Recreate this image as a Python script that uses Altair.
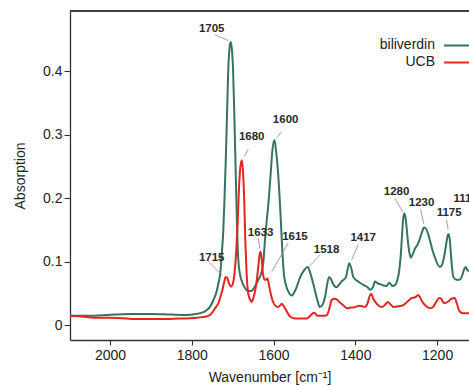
import altair as alt
import pandas as pd

# ---- spectra ----
bv_wn = [2098, 2060, 2020, 1990, 1950, 1900, 1850, 1812, 1790, 1775, 1764, 1755, 1747, 1740,
         1735, 1730, 1727, 1723, 1720, 1717, 1714, 1711, 1708, 1705, 1702, 1699, 1696, 1693,
         1690, 1686, 1682, 1678, 1670, 1662, 1655, 1645, 1637, 1629, 1625, 1621, 1616, 1613,
         1607, 1603, 1598, 1594, 1589, 1584, 1580, 1575, 1570, 1563, 1556, 1545, 1535, 1525,
         1517, 1510, 1503, 1493, 1487, 1480, 1474, 1468, 1464, 1459, 1455, 1446, 1440, 1434,
         1423, 1419, 1415, 1410, 1405, 1393, 1381, 1370, 1364, 1357, 1352, 1345, 1340, 1324,
         1317, 1309, 1302, 1298, 1293, 1289, 1286, 1283, 1280, 1277, 1274, 1271, 1267, 1264,
         1259, 1254, 1248, 1244, 1238, 1232, 1228, 1223, 1218, 1212, 1206, 1200, 1193, 1188,
         1183, 1178, 1174, 1172, 1169, 1166, 1163, 1160, 1153, 1145, 1139, 1134, 1130, 1126, 1122]
bv_abs = [0.015, 0.015, 0.016, 0.017, 0.018, 0.018, 0.017, 0.0165, 0.018, 0.02, 0.024, 0.03, 0.04, 0.052,
          0.066, 0.085, 0.11, 0.15, 0.20, 0.26, 0.33, 0.40, 0.435, 0.446, 0.435, 0.40, 0.33, 0.25,
          0.17, 0.10, 0.08, 0.07, 0.059, 0.054, 0.054, 0.062, 0.072, 0.085, 0.10, 0.135, 0.17, 0.19,
          0.24, 0.275, 0.292, 0.275, 0.24, 0.187, 0.135, 0.082, 0.064, 0.052, 0.047, 0.058, 0.076, 0.087,
          0.092, 0.082, 0.066, 0.04, 0.029, 0.033, 0.045, 0.068, 0.076, 0.072, 0.066, 0.06, 0.064, 0.069,
          0.076, 0.088, 0.098, 0.09, 0.076, 0.069, 0.064, 0.06, 0.056, 0.06, 0.069, 0.066, 0.065, 0.062,
          0.067, 0.062, 0.064, 0.07, 0.085, 0.11, 0.14, 0.168, 0.176, 0.168, 0.15, 0.13, 0.112, 0.107,
          0.113, 0.121, 0.127, 0.133, 0.145, 0.154, 0.153, 0.146, 0.135, 0.12, 0.108, 0.098, 0.092, 0.095,
          0.108, 0.127, 0.142, 0.144, 0.135, 0.11, 0.088, 0.076, 0.072, 0.072, 0.078, 0.088, 0.092, 0.087, 0.085]

ucb_wn = [2098, 2070, 2040, 2000, 1960, 1944, 1900, 1861, 1830, 1812, 1790, 1775, 1760, 1753,
          1748, 1742, 1735, 1730, 1725, 1721, 1717, 1713, 1709, 1704, 1700, 1696, 1692, 1688,
          1685, 1682, 1678, 1675, 1672, 1669, 1666, 1662, 1657, 1654, 1650, 1645, 1641, 1637,
          1634, 1632, 1629, 1626, 1622, 1618, 1615, 1612, 1609, 1603, 1597, 1589, 1583, 1580,
          1576, 1572, 1566, 1560, 1548, 1530, 1519, 1512, 1506, 1501, 1497, 1493, 1480, 1470,
          1463, 1458, 1450, 1446, 1438, 1430, 1420, 1412, 1405, 1397, 1389, 1383, 1377, 1370,
          1365, 1361, 1356, 1349, 1343, 1336, 1328, 1321, 1314, 1307, 1295, 1283, 1275, 1268,
          1263, 1255, 1250, 1246, 1241, 1234, 1226, 1218, 1210, 1203, 1195, 1190, 1186, 1181,
          1172, 1165, 1157, 1152, 1145, 1135, 1122]
ucb_abs = [0.015, 0.014, 0.012, 0.012, 0.011, 0.01, 0.01, 0.01, 0.011, 0.011, 0.012, 0.013, 0.015, 0.018,
           0.022, 0.028, 0.035, 0.045, 0.056, 0.068, 0.076, 0.074, 0.066, 0.061, 0.065, 0.08, 0.11, 0.16,
           0.21, 0.245, 0.26, 0.245, 0.2, 0.13, 0.082, 0.05, 0.04, 0.037, 0.042, 0.055, 0.072, 0.095,
           0.112, 0.116, 0.105, 0.082, 0.072, 0.072, 0.074, 0.066, 0.056, 0.04, 0.032, 0.029, 0.032, 0.034,
           0.031, 0.027, 0.02, 0.014, 0.011, 0.011, 0.011, 0.014, 0.018, 0.02, 0.018, 0.015, 0.015, 0.016,
           0.028, 0.04, 0.042, 0.041, 0.036, 0.032, 0.027, 0.028, 0.028, 0.03, 0.031, 0.03, 0.029, 0.035,
           0.046, 0.05, 0.042, 0.035, 0.031, 0.029, 0.032, 0.037, 0.033, 0.029, 0.03, 0.032, 0.036, 0.04,
           0.043, 0.044, 0.046, 0.048, 0.043, 0.035, 0.03, 0.027, 0.029, 0.036, 0.043, 0.042, 0.037, 0.035,
           0.038, 0.042, 0.043, 0.035, 0.022, 0.019, 0.019]

series_names = ["biliverdin", "UCB"]
series_colors = ["#37735f", "#e3261f"]

# ---- peak annotations ----
peak_labels = ["1705", "1680", "1600", "1633", "1615", "1518", "1417", "1715", "1280", "1230", "1175", "1111"]
label_wn = [1751.4, 1653.6, 1570.5, 1631.6, 1547.8, 1470.3, 1380.8, 1751.4, 1299.2, 1238.1, 1170.6, 1131.0]
label_abs = [0.4665, 0.2964, 0.3236, 0.1461, 0.1398, 0.1189, 0.1383, 0.1068, 0.2107, 0.1934, 0.1776, 0.1987]

lead_wn1 = [1743.3, 1661.9, 1580.3, 1637.5, 1564.2, 1486.7, 1393.0, 1759.7, 1303.3, 1240.5, 1177.0]
lead_abs1 = [0.4575, 0.2775, 0.3052, 0.1373, 0.1294, 0.1110, 0.1268, 0.1005, 0.2003, 0.1830, 0.1661]
lead_wn2 = [1710.8, 1671.7, 1592.5, 1633.3, 1604.7, 1512.8, 1409.2, 1724.5, 1284.5, 1232.5, 1173.0]
lead_abs2 = [0.4485, 0.2658, 0.2948, 0.1210, 0.0847, 0.0926, 0.1031, 0.0780, 0.1792, 0.1598, 0.1504]

spec = pd.concat([
    pd.DataFrame({"wavenumber": bv_wn, "absorbance": bv_abs, "series": series_names[0]}),
    pd.DataFrame({"wavenumber": ucb_wn, "absorbance": ucb_abs, "series": series_names[1]}),
])
labels_df = pd.DataFrame({"wavenumber": label_wn, "absorbance": label_abs, "label": peak_labels})
leads_df = pd.DataFrame({"wavenumber": lead_wn1, "absorbance": lead_abs1,
                         "wavenumber2": lead_wn2, "absorbance2": lead_abs2})
legend_df = pd.DataFrame({"series": series_names})

W, H = 399, 329
xscale = alt.Scale(domain=[2098, 1122], nice=False, zero=False)
yscale = alt.Scale(domain=[-0.023, 0.495], nice=False, zero=False)
cscale = alt.Scale(domain=series_names, range=series_colors)

xenc = alt.X("wavenumber:Q", scale=xscale,
             axis=alt.Axis(values=[2000, 1800, 1600, 1400, 1200], format="d",
                           title="Wavenumber [cm⁻¹]", tickSize=5, labelPadding=3,
                           titlePadding=8))
yenc = alt.Y("absorbance:Q", scale=yscale,
             axis=alt.Axis(values=[0, 0.1, 0.2, 0.3, 0.4], title="Absorption",
                           labelExpr="datum.value == 0 ? '0' : format(datum.value, '.1f')",
                           tickSize=6, labelPadding=2, titlePadding=15))

lines = alt.Chart(spec).mark_line(strokeWidth=2, interpolate="monotone", clip=True).encode(
    x=xenc, y=yenc,
    color=alt.Color("series:N", scale=cscale, legend=None),
    detail="series:N",
)

leads = alt.Chart(leads_df).mark_rule(color="#8a8a8a", strokeWidth=0.8).encode(
    x=alt.X("wavenumber:Q", scale=xscale), x2="wavenumber2:Q",
    y=alt.Y("absorbance:Q", scale=yscale), y2="absorbance2:Q",
)

texts = alt.Chart(labels_df).mark_text(fontSize=11.5, fontWeight="bold", color="#2a2a2a",
                                       font="Liberation Sans").encode(
    x=alt.X("wavenumber:Q", scale=xscale), y=alt.Y("absorbance:Q", scale=yscale), text="label:N",
)

top_frame = alt.Chart(legend_df).mark_rule(color="#333333", strokeWidth=1.3).encode(
    x=alt.value(0), x2=alt.value(W), y=alt.value(0),
)

legend_layers = []
for i, (name, yy) in enumerate(zip(series_names, [34, 51])):
    legend_layers.append(
        alt.Chart(legend_df).transform_filter(alt.datum.series == name).mark_text(
            align="right", baseline="middle", fontSize=14, color="#222222", font="Liberation Sans"
        ).encode(x=alt.value(365), y=alt.value(yy), text="series:N")
    )
    legend_layers.append(
        alt.Chart(legend_df).transform_filter(alt.datum.series == name).mark_rule(
            strokeWidth=2, color=series_colors[i]
        ).encode(x=alt.value(374), x2=alt.value(W + 5), y=alt.value(yy + 0.5))
    )

chart = alt.layer(lines, leads, texts, top_frame, *legend_layers).properties(
    width=W, height=H,
    autosize=alt.AutoSizeParams(type="none"),
    padding={"left": 70, "top": 11, "right": 0, "bottom": 46},
    background="white",
).configure_view(stroke=None).configure_axis(
    grid=False, domainColor="#333333", domainWidth=1.3, tickColor="#333333", tickWidth=1.1,
    labelFont="Liberation Sans", labelFontSize=14, labelColor="#222222",
    titleFont="Liberation Sans", titleFontSize=14, titleFontWeight="normal", titleColor="#222222",
)

chart.save("out.html", embed_options={"renderer": "svg", "actions": False})
